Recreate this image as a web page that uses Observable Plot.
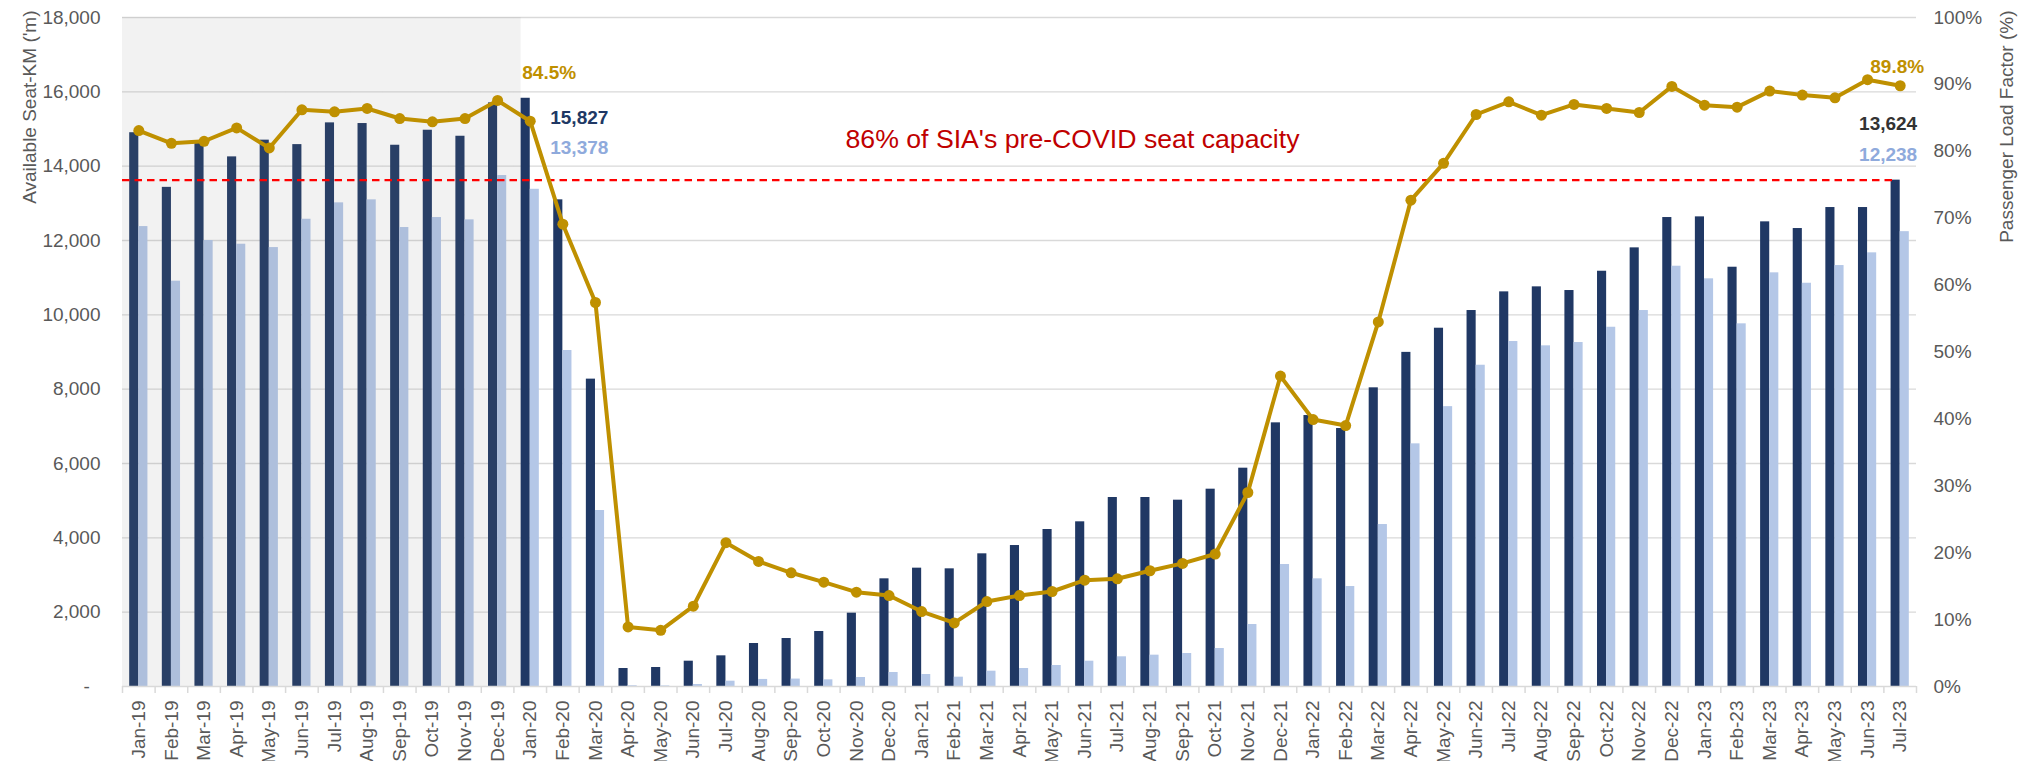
<!DOCTYPE html>
<html>
<head>
<meta charset="utf-8">
<script src="https://cdn.jsdelivr.net/npm/d3@7"></script>
<script src="https://cdn.jsdelivr.net/npm/@observablehq/plot@0.6"></script>
<style>
  html, body { margin: 0; padding: 0; background: #ffffff; }
  #chart svg { display: block; }
</style>
</head>
<body>
<div id="chart"></div>
<script>
// ---- data ----
const months = [
  "Jan-19","Feb-19","Mar-19","Apr-19","May-19","Jun-19","Jul-19","Aug-19","Sep-19","Oct-19","Nov-19","Dec-19",
  "Jan-20","Feb-20","Mar-20","Apr-20","May-20","Jun-20","Jul-20","Aug-20","Sep-20","Oct-20","Nov-20","Dec-20",
  "Jan-21","Feb-21","Mar-21","Apr-21","May-21","Jun-21","Jul-21","Aug-21","Sep-21","Oct-21","Nov-21","Dec-21",
  "Jan-22","Feb-22","Mar-22","Apr-22","May-22","Jun-22","Jul-22","Aug-22","Sep-22","Oct-22","Nov-22","Dec-22",
  "Jan-23","Feb-23","Mar-23","Apr-23","May-23","Jun-23","Jul-23"
];
// Available seat-km ('m) – dark bars
const seatKm = [
  14900,13430,14650,14250,14700,14580,15165,15147,14563,14967,14805,15703,
  15827,13094,8270,484,511,681,825,1157,1291,1480,1973,2897,
  3184,3166,3570,3793,4224,4431,5085,5085,5013,5309,5874,7094,
  7291,6941,8036,8990,9640,10116,10618,10753,10654,11173,11802,12618,
  12636,11281,12502,12322,12887,12887,13624
];
// Revenue passenger-km ('m) – light bars
const passengerKm = [
  12375,10905,12000,11900,11810,12572,13013,13094,12349,12618,12555,13748,
  13378,9040,4735,20,15,54,143,190,200,180,242,377,
  323,251,412,484,565,681,799,843,888,1022,1668,3282,
  2897,2690,4358,6529,7530,8644,9282,9166,9255,9666,10116,11308,
  10969,9758,11130,10850,11326,11668,12238
];
// Passenger load factor (%) – line
const loadFactor = [
  83.1,81.2,81.5,83.5,80.5,86.2,85.9,86.4,84.9,84.4,84.9,87.6,
  84.5,69.1,57.4,8.9,8.4,12.0,21.5,18.7,17.0,15.6,14.1,13.6,
  11.2,9.5,12.7,13.6,14.2,15.9,16.1,17.3,18.4,19.8,29.0,46.4,
  39.9,39.0,54.5,72.7,78.2,85.5,87.4,85.4,87.0,86.4,85.8,89.7,
  86.9,86.6,89.0,88.4,88.0,90.7,89.8
];
const leftTicks = [0,2000,4000,6000,8000,10000,12000,14000,16000,18000];
const rightTicksPct = [0,10,20,30,40,50,60,70,80,90,100];
const axisMax = 18000;
const capacityLine = 13624;   // 86% of pre-COVID seat capacity
const preCovidMonths = months.slice(0, 12);

// ---- table ----
const data = months.map((m, i) => ({month: m, ask: seatKm[i], rpk: passengerKm[i], lf: loadFactor[i]}));
const lfToY = d => d.lf / 100 * axisMax;
const last = data[data.length - 1];
const jan20 = data[12];

const font = "'Liberation Sans', Arial, Helvetica, sans-serif";
const grey = "#595959";
const navy = "#203864";
const light = "#b4c7e7";
const gold = "#bf9000";

const chart = Plot.plot({
  width: 2022,
  height: 761,
  marginLeft: 122,
  marginRight: 106,
  marginTop: 17,
  marginBottom: 75,
  style: {fontFamily: font, fontSize: "19px", color: grey, background: "#ffffff", overflow: "visible"},
  x: {type: "band", domain: months, padding: 0, axis: null},
  y: {domain: [0, axisMax], axis: null},
  marks: [
    Plot.gridY(leftTicks.slice(1), {stroke: "#d9d9d9", strokeOpacity: 1, strokeWidth: 1.3}),
    Plot.barY(data, {x: "month", y: "ask", fill: navy, insetLeft: 7.2, insetRight: 16.3}),
    Plot.barY(data, {x: "month", y: "rpk", fill: light, insetLeft: 16.3, insetRight: 7.2}),
    // pre-COVID shading
    Plot.barY(preCovidMonths, {x: d => d, y: () => axisMax, fill: "#808080", fillOpacity: 0.1, inset: 0}),
    Plot.barY(["Jan-20"], {x: d => d, y: () => axisMax, fill: "#808080", fillOpacity: 0.1, insetLeft: 0, insetRight: 25.4}),
    Plot.ruleY([0], {stroke: "#d9d9d9", strokeWidth: 1.5}),
    // category boundary ticks
    Plot.axisX(months, {tickSize: 7, stroke: "#d9d9d9", strokeWidth: 1.5, fill: "none", tickFormat: () => "", dx: -16.31}),
    Plot.axisX([months[months.length - 1]], {tickSize: 7, stroke: "#d9d9d9", strokeWidth: 1.5, fill: "none", tickFormat: () => "", dx: 16.31}),
    // category labels
    Plot.axisX(months, {tickSize: 0, tickPadding: 14, tickRotate: -90, fill: grey, fontSize: 19, label: null}),
    // left axis
    Plot.axisY(leftTicks, {anchor: "left", tickSize: 0, tickPadding: 22, fill: grey, fontSize: 19, label: null,
      tickFormat: d => d === 0 ? "-\u00a0\u00a0" : d3.format(",")(d)}),
    // right axis (load factor)
    Plot.axisY(rightTicksPct.map(p => p / 100 * axisMax), {anchor: "right", tickSize: 0, tickPadding: 17, fill: grey, fontSize: 19, label: null,
      tickFormat: d => Math.round(d / axisMax * 100) + "%"}),
    // 86% capacity line
    Plot.ruleY([capacityLine], {stroke: "#ff0000", strokeWidth: 2.2, strokeDasharray: "7.5,5", insetRight: 21}),
    // load factor line
    Plot.line(data, {x: "month", y: lfToY, stroke: gold, strokeWidth: 4, strokeLinejoin: "round"}),
    Plot.dot(data, {x: "month", y: lfToY, r: 5.5, fill: gold, stroke: "none"}),
    // annotations
    Plot.text([jan20], {x: "month", y: lfToY, text: d => d.lf.toFixed(1) + "%", fill: gold, fontWeight: "bold", fontSize: 19, dx: 19, dy: -48}),
    Plot.text([jan20], {x: "month", y: "ask", text: d => d3.format(",")(d.ask), fill: navy, fontWeight: "bold", fontSize: 19, textAnchor: "start", dx: 20, dy: 19.5}),
    Plot.text([jan20], {x: "month", y: "rpk", text: d => d3.format(",")(d.rpk), fill: "#8faadc", fontWeight: "bold", fontSize: 19, textAnchor: "start", dx: 20, dy: -41}),
    Plot.text([last], {x: "month", y: lfToY, text: d => d.lf.toFixed(1) + "%", fill: gold, fontWeight: "bold", fontSize: 19, dx: -3, dy: -19}),
    Plot.text([last], {x: "month", y: "ask", text: d => d3.format(",")(d.ask), fill: "#333333", fontWeight: "bold", fontSize: 19, textAnchor: "end", dx: 17, dy: -56.6}),
    Plot.text([last], {x: "month", y: "rpk", text: d => d3.format(",")(d.rpk), fill: "#8faadc", fontWeight: "bold", fontSize: 19, textAnchor: "end", dx: 17, dy: -77}),
    Plot.text([{month: "Oct-20", v: capacityLine}], {x: "month", y: "v", text: () => "86% of SIA's pre-COVID seat capacity", fill: "#c00000", fontSize: 26.67, textAnchor: "start", dx: 21.7, dy: -40.6}),
    // axis titles
    Plot.text(["Available Seat-KM ('m)"], {frameAnchor: "top-left", text: d => d, rotate: -90, textAnchor: "end", dx: -100, dy: -7, fill: grey, fontSize: 19}),
    Plot.text(["Passenger Load Factor (%)"], {frameAnchor: "top-right", text: d => d, rotate: -90, textAnchor: "end", dx: 83, dy: -7, fill: grey, fontSize: 19})
  ]
});
document.getElementById("chart").appendChild(chart);
</script>
</body>
</html>
